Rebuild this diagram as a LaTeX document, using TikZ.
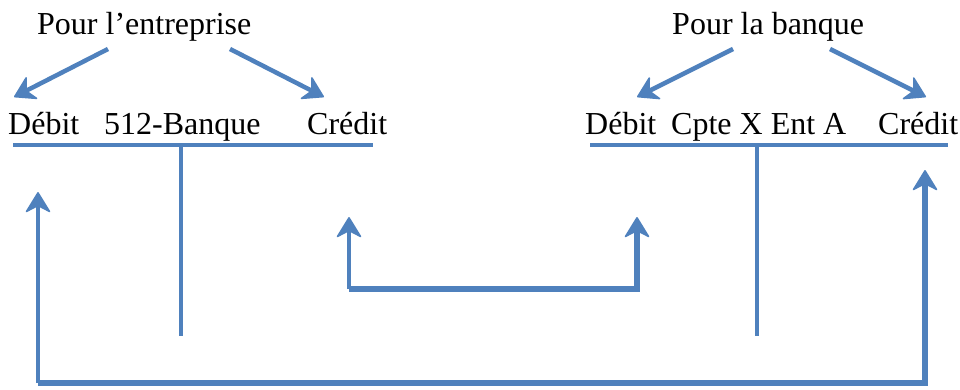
\documentclass[tikz,border=0pt]{standalone}
\usepackage{fontspec}
\setmainfont{Liberation Serif}
\usepackage{xcolor}
\usetikzlibrary{positioning, arrows.meta}
\definecolor{acblue}{HTML}{4F81BD}

\begin{document}
\begin{tikzpicture}[x=1pt, y=-1pt, font=\fontsize{32}{36}\selectfont,
        lbl/.style={anchor=base west, inner sep=0pt},
        ln/.style={acblue, line width=4.5pt},
        arr/.style={ln, -{Stealth[length=22pt, width=27pt, inset=7pt, line width=1.5pt, round]}}]
        \useasboundingbox (0,0) rectangle (960,389);
        % titles
        \node[lbl] (te) at (37,34) {Pour l’entreprise};
        \node[lbl] (tb) at (672,34) {Pour la banque};
        % account 512
        \node[lbl] (d1) at (8,134) {Débit};
        \node[lbl] (n1) at (104,134) {512-Banque};
        \node[lbl] (c1) at (307,134) {Crédit};
        % account client
        \node[lbl] (d2) at (585,134) {Débit};
        \node[lbl] (n2) at (671,134) {Cpte X Ent A};
        \node[lbl] (c2) at (878,134) {Crédit};
        % T accounts
        \coordinate (t1l) at (13,145);  \coordinate (t1r) at (373,145);
        \coordinate (t1t) at (181,145); \coordinate (t1b) at (181,336);
        \coordinate (t2l) at (590,145); \coordinate (t2r) at (948,145);
        \coordinate (t2t) at (757,145); \coordinate (t2b) at (757,336);
        \draw[ln] (t1l) -- (t1r);
        \draw[ln] (t1t) -- (t1b);
        \draw[ln] (t2l) -- (t2r);
        \draw[ln] (t2t) -- (t2b);
        % pointers from titles
        \coordinate (p1) at (108,49);  \coordinate (p2) at (230,49);
        \coordinate (p3) at (733,49);  \coordinate (p4) at (830,49);
        \draw[arr] (p1) -- (14,97);
        \draw[arr] (p2) -- (324,97);
        \draw[arr] (p3) -- (637,97);
        \draw[arr] (p4) -- (926,97);
        % flows
        \coordinate (u1) at (349,217); \coordinate (u2) at (637,217);
        \coordinate (b1) at (38,192);  \coordinate (b2) at (925,170);
        \draw[arr] (u1 |- 0,289) -- (u1);
        \draw[arr, line width=5.5pt] (u1 |- 0,289) -- (u2 |- 0,289) -- (u2);
        \draw[arr] (b1 |- 0,383) -- (b1);
        \draw[arr, line width=5.5pt] (b1 |- 0,383) -- (b2 |- 0,383) -- (b2);
\end{tikzpicture}
\end{document}
